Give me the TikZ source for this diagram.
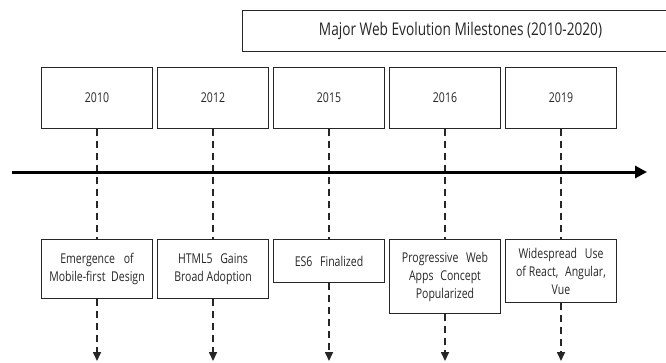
\documentclass[tikz,border=0pt]{standalone}
\usepackage{fontspec}
\setmainfont{Open Sans}[FakeStretch=0.78]
\usetikzlibrary{arrows.meta}
\definecolor{ink}{HTML}{262626}
\begin{document}
\begin{tikzpicture}[x=1pt,y=-1pt,
  yearbox/.style={draw=ink,line width=1pt,minimum width=111pt,minimum height=61pt,inner sep=0pt,font=\fontsize{13.5}{17}\selectfont,text=ink},
  eventbox/.style={draw=ink,line width=1pt,minimum width=111pt,inner sep=0pt,anchor=north,font=\fontsize{13.5}{18}\selectfont,text=ink,align=center},
  titlebox/.style={draw=ink,line width=1pt,anchor=north west,minimum width=440pt,minimum height=41pt,inner sep=0pt,font=\fontsize{17.5}{20}\selectfont,text=ink},
  dashline/.style={draw=ink,line width=1.6pt,dash pattern=on 7pt off 5pt},
  tip/.style={-{Triangle[length=9pt,width=8pt]}}]
\useasboundingbox (0,0) rectangle (666,362);
\clip (0,0) rectangle (666,362);
\node[titlebox] (title) at (242,10) {\hspace*{-4pt}Major Web Evolution Milestones (2010-2020)};
\node[yearbox] (y1) at (97,97.5) {2010};
\node[yearbox] (y2) at (213,97.5) {2012};
\node[yearbox] (y3) at (329,97.5) {2015};
\node[yearbox] (y4) at (445,97.5) {2016};
\node[yearbox] (y5) at (561,97.5) {2019};
\node[eventbox,minimum height=59pt] (e1) at (97,239) {Emergence\hspace{6pt} of\\Mobile-first\hspace{3pt} Design};
\node[eventbox,minimum height=59pt] (e2) at (213,239) {HTML5\hspace{5pt} Gains\\Broad Adoption};
\node[eventbox,minimum height=43pt] (e3) at (329,239) {ES6\hspace{5pt} Finalized};
\node[eventbox,minimum height=74pt] (e4) at (445,239) {Progressive\hspace{5pt} Web\\Apps\hspace{4pt} Concept\\Popularized};
\node[eventbox,minimum height=63pt] (e5) at (561,239) {Widespread\hspace{5pt} Use\\of React,\hspace{4pt} Angular,\\Vue};
\foreach \i/\x in {1/97,2/213,3/329,4/445,5/561}{
  \coordinate (end\i) at (\x,361);
  \draw[dashline] (y\i.south) -- (e\i.north);
  \draw[dashline,tip] (e\i.south) -- (end\i);
}
\coordinate (tl0) at (12,172);
\coordinate (tl1) at (647,172);
\draw[line width=3pt,-{Triangle[length=12pt,width=12pt]}] (tl0) -- (tl1);
\end{tikzpicture}
\end{document}
